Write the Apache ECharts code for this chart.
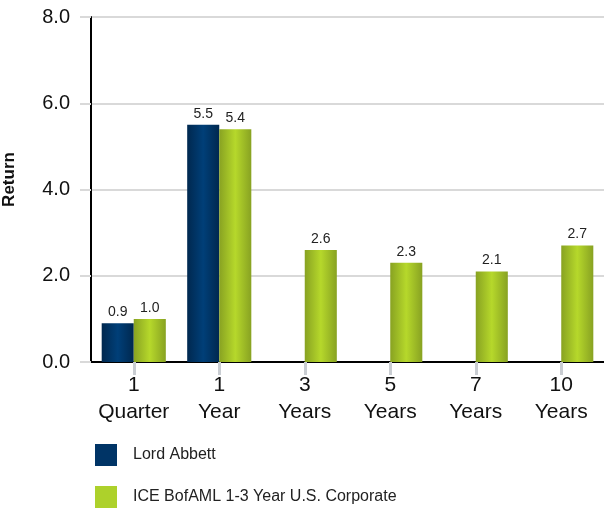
<!DOCTYPE html>
<html><head><meta charset="utf-8">
<script src="https://cdn.jsdelivr.net/npm/echarts@6/dist/echarts.min.js"></script>
<style>html,body{margin:0;padding:0;background:#fff}#c{width:604px;height:511px}</style>
</head><body><div id="c"></div>
<script>
var categories = ['1\nQuarter', '1\nYear', '3\nYears', '5\nYears', '7\nYears', '10\nYears'];
var lordAbbett = [0.9, 5.5, null, null, null, null];
var iceBofaml = [1.0, 5.4, 2.6, 2.3, 2.1, 2.7];
var seriesNames = ['Lord Abbett', 'ICE BofAML 1-3 Year U.S. Corporate'];

function grad(edge, mid) {
  return new echarts.graphic.LinearGradient(0, 0, 1, 0, [
    {offset: 0, color: edge}, {offset: 0.5, color: mid}, {offset: 1, color: edge}
  ]);
}
var chart = echarts.init(document.getElementById('c'), null, {renderer: 'canvas'});
var labelCfg = {show: true, position: 'top', distance: 4, fontSize: 14, color: '#222', fontFamily: 'Liberation Sans, Arial',
  formatter: function (p) { return p.value == null ? '' : p.value.toFixed(1); }};
chart.setOption({
  animation: false,
  textStyle: {fontFamily: 'Liberation Sans, Arial'},
  grid: {left: 91, right: 0, top: 17, bottom: 149, containLabel: false, outerBoundsMode: 'none'},
  legend: {
    orient: 'vertical', left: 95, top: 444, padding: 0, itemWidth: 22, itemHeight: 22, itemGap: 20,
    icon: 'rect',
    textStyle: {fontSize: 16, color: '#222', padding: [0, 0, 0, 11]},
    data: [{name: seriesNames[0], itemStyle: {color: '#003466'}}, {name: seriesNames[1], itemStyle: {color: '#add12b'}}]
  },
  xAxis: {
    type: 'category', data: categories,
    axisLine: {lineStyle: {color: '#000', width: 2}},
    axisTick: {show: true, alignWithLabel: true, interval: 0, length: 13, lineStyle: {color: '#c9cdd2', width: 3}},
    axisLabel: {fontSize: 21, color: '#111', lineHeight: 27, margin: 10, interval: 0, hideOverlap: false}
  },
  yAxis: {
    type: 'value', min: 0, max: 8, interval: 2,
    name: 'Return', nameLocation: 'middle', nameRotate: 90, nameGap: 73,
    nameTextStyle: {fontSize: 17, fontWeight: 'bold', color: '#111', padding: [0, 0, 0, 20]},
    axisLine: {show: true, lineStyle: {color: '#000', width: 2}},
    axisTick: {show: true, length: 11, lineStyle: {color: '#d9d9d9', width: 2}},
    splitLine: {show: true, lineStyle: {color: '#d9d9d9', width: 2}},
    axisLabel: {fontSize: 20, color: '#111', margin: 21, formatter: function (v) { return v.toFixed(1); }}
  },
  series: [
    {name: seriesNames[0], type: 'bar', data: lordAbbett, barGap: '0%', barCategoryGap: '25%',
      itemStyle: {color: grad('#00284f', '#003f78')}, label: labelCfg},
    {name: seriesNames[1], type: 'bar', data: iceBofaml, barGap: '0%', barCategoryGap: '25%',
      itemStyle: {color: grad('#88a222', '#b6d82b')}, label: labelCfg}
  ]
});
</script></body></html>
